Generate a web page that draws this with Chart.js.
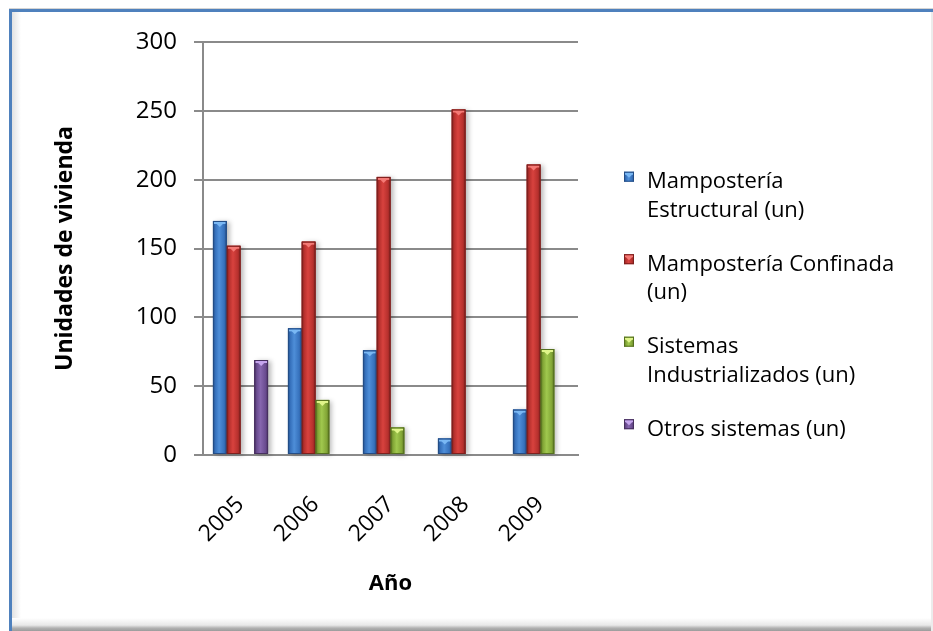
<!DOCTYPE html>
<html>
<head>
<meta charset="utf-8">
<title>Unidades de vivienda por sistema constructivo</title>
<script src="https://cdn.jsdelivr.net/npm/chart.js@4/dist/chart.umd.min.js"></script>
<style>
  html, body { margin: 0; padding: 0; background: #fff; overflow: hidden; }
  #wrap { position: relative; width: 933px; height: 631px; overflow: hidden; background: #fff; }
  .frame { position: absolute; left: 9px; top: 9px; width: 1000px; height: 700px;
           border-top: 3px solid #4f81bd; border-left: 3px solid #4f81bd;
           box-shadow: 0 -1px 0 #d4d4d4; }
  .shadeL { position: absolute; left: 12px; top: 12px; width: 9px; height: 619px;
            background: linear-gradient(to right, #e2e2e2, #ffffff); }
  .shadeB { position: absolute; left: 12px; top: 618px; width: 921px; height: 13px;
            background: linear-gradient(to bottom, #ffffff, #e8e8e8 55%, #b0b0b0 78%, #9c9c9c); }
  .shadeR { position: absolute; left: 931px; top: 12px; width: 2px; height: 619px; background: #ececec; }
  canvas { position: absolute; left: 0; top: 0; }
</style>
</head>
<body>
<div id="wrap">
  <div class="frame"></div>
  <div class="shadeL"></div>
  <div class="shadeB"></div>
  <div class="shadeR"></div>
  <canvas id="chart" width="933" height="631"></canvas>
</div>
<script>
// Años y unidades de vivienda por sistema constructivo
const years = ['2005', '2006', '2007', '2008', '2009'];
const mamposteriaEstructural   = [170, 92, 76, 12, 33];
const mamposteriaConfinada     = [152, 155, 202, 251, 211];
const sistemasIndustrializados = [null, 40, 20, null, 77];
const otrosSistemas            = [69, null, null, null, null];

const seriesNames = [
  'Mampostería Estructural (un)',
  'Mampostería Confinada (un)',
  'Sistemas Industrializados (un)',
  'Otros sistemas (un)'
];
// Cortes de línea de cada entrada de la leyenda
const legendLines = [
  ['Mampostería', 'Estructural (un)'],
  ['Mampostería Confinada', '(un)'],
  ['Sistemas', 'Industrializados (un)'],
  ['Otros sistemas (un)']
];
const yTicks = [0, 50, 100, 150, 200, 250, 300];

// Tonos de cada serie: borde oscuro, cuerpo, brillo y remate superior
const palette = [
  { dark: '#244d85', mid: '#3671bc', light: '#4e8ed8', cap: '#7ab8f4' },
  { dark: '#7d1f1d', mid: '#b6302d', light: '#d8423e', cap: '#f47a76' },
  { dark: '#55701f', mid: '#82a536', light: '#a0c84e', cap: '#e0f58a' },
  { dark: '#47305f', mid: '#6a4c90', light: '#8666ae', cap: '#c6a6ee' }
];

const seriesValues = [mamposteriaEstructural, mamposteriaConfinada, sistemasIndustrializados, otrosSistemas];

const FONT = '"Open Sans", "Liberation Sans", sans-serif';

function shadeBar(ctx, left, top, w, h, p, cx) {
  const g = ctx.createLinearGradient(left, 0, left + w, 0);
  g.addColorStop(0, p.dark);
  g.addColorStop(0.18, p.mid);
  g.addColorStop(0.45, p.light);
  g.addColorStop(0.82, p.mid);
  g.addColorStop(1, p.dark);
  ctx.fillStyle = g;
  ctx.fillRect(left, top, w, h);
  // remate superior con muesca triangular
  ctx.fillStyle = p.cap;
  ctx.fillRect(left + 1, top + 1, w - 2, 2);
  ctx.beginPath();
  ctx.moveTo(cx - 4, top + 2);
  ctx.lineTo(cx + 4, top + 2);
  ctx.lineTo(cx, top + 6);
  ctx.closePath();
  ctx.fill();
  ctx.strokeStyle = p.dark;
  ctx.lineWidth = 1;
  ctx.strokeRect(left + 0.5, top + 0.5, w - 1, h - 1);
}

// Sombra y volumen de las barras
const barLook = {
  id: 'barLook',
  afterDatasetsDraw(chart) {
    const ctx = chart.ctx;
    const bars = [];
    chart.data.datasets.forEach((ds, i) => {
      const meta = chart.getDatasetMeta(i);
      meta.data.forEach((el, j) => {
        if (ds.data[j] == null) return;
        const { x, y, base, width } = el.getProps(['x', 'y', 'base', 'width'], true);
        bars.push({ left: x - width / 2, top: Math.min(y, base), w: width, h: Math.abs(base - y), cx: x, p: palette[i] });
      });
    });
    ctx.save();
    ctx.shadowColor = 'rgba(0,0,0,0.28)';
    ctx.shadowBlur = 5;
    ctx.shadowOffsetX = 3;
    ctx.shadowOffsetY = 1;
    bars.forEach(b => { ctx.fillStyle = b.p.mid; ctx.fillRect(b.left, b.top, b.w, b.h); });
    ctx.restore();
    ctx.save();
    bars.forEach(b => shadeBar(ctx, b.left, b.top, b.w, b.h, b.p, b.cx));
    ctx.restore();
  }
};

// Leyenda a la derecha con etiquetas en varias líneas
const sideLegend = {
  id: 'sideLegend',
  afterDraw(chart) {
    const ctx = chart.ctx;
    const boxX = 624, textX = 647, lineH = 28.4, gap = 25.7;
    let y = 171.7;
    ctx.save();
    ctx.font = '22px ' + FONT;
    ctx.fillStyle = '#000';
    ctx.textBaseline = 'alphabetic';
    chart.data.datasets.forEach((ds, i) => {
      const p = palette[i];
      shadeBar(ctx, boxX, y, 10, 10, p, boxX + 5);
      ctx.fillStyle = '#000';
      legendLines[i].forEach((line, k) => {
        ctx.fillText(line, textX, y + 16.5 + k * lineH);
      });
      y += legendLines[i].length * lineH + gap;
    });
    ctx.restore();
  }
};

function draw() {
  const ctx = document.getElementById('chart').getContext('2d');
  new Chart(ctx, {
    type: 'bar',
    data: {
      labels: years,
      datasets: seriesValues.map((d, i) => ({
        label: seriesNames[i],
        data: d,
        backgroundColor: palette[i].mid,
        borderColor: palette[i].dark,
        borderWidth: 1,
        barPercentage: 1,
        categoryPercentage: 0.735
      }))
    },
    options: {
      responsive: false,
      animation: false,
      devicePixelRatio: 1,
      layout: { padding: { left: 52, top: 42, right: 355, bottom: 30 } },
      plugins: { legend: { display: false }, tooltip: { enabled: false } },
      scales: {
        x: {
          grid: { display: false, drawTicks: false },
          border: { display: true, color: '#8a8a8a', width: 2 },
          ticks: {
            minRotation: 45, maxRotation: 45, padding: 36,
            color: '#000', font: { family: FONT, size: 23 }
          },
          title: {
            display: true, text: 'Año', color: '#000',
            font: { family: FONT, size: 22, weight: 'bold' },
            padding: { top: 0, bottom: 4 }
          },
          afterFit(scale) { scale.height = 146; }
        },
        y: {
          min: 0, max: 300,
          afterBuildTicks(scale) { scale.ticks = yTicks.map(v => ({ value: v })); },
          ticks: { padding: 17, color: '#000', font: { family: FONT, size: 24 } },
          grid: { color: '#8a8a8a', lineWidth: 2, tickLength: 9 },
          border: { color: '#8a8a8a', width: 2 },
          title: {
            display: true, text: 'Unidades de vivienda', color: '#000',
            font: { family: FONT, size: 23, weight: 'bold' },
            padding: 0
          },
          afterFit(scale) { scale.width = 203 - 52; }
        }
      }
    },
    plugins: [barLook, sideLegend]
  });
}

if (document.fonts && document.fonts.load) {
  Promise.all([
    document.fonts.load('22px "Open Sans"'),
    document.fonts.load('bold 22px "Open Sans"')
  ]).then(draw, draw);
} else {
  draw();
}
</script>
</body>
</html>
